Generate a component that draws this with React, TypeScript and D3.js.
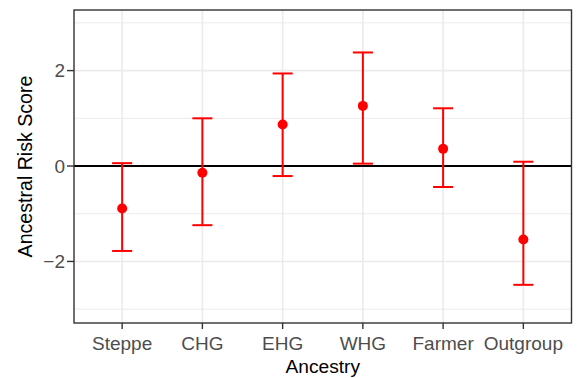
import { scaleLinear, scalePoint } from "d3";

const categories = ["Steppe", "CHG", "EHG", "WHG", "Farmer", "Outgroup"];
const estimate = [-0.89, -0.14, 0.87, 1.26, 0.36, -1.54];
const lower = [-1.78, -1.24, -0.21, 0.05, -0.44, -2.49];
const upper = [0.06, 1.0, 1.94, 2.38, 1.21, 0.09];
const majorTicks = [-2, 0, 2];
const minorTicks = [-3, -1, 1, 3];

const W = 582;
const H = 378;
const FONT = "'Liberation Sans', Arial, Helvetica, sans-serif";

export default function App() {
  const panel = { left: 74, right: 571.5, top: 10, bottom: 323 };

  const x = scalePoint<string>()
    .domain(categories)
    .range([panel.left, panel.right])
    .padding(0.6);

  const y = scaleLinear().domain([-3.29, 3.27]).range([panel.bottom, panel.top]);

  const capHalf = x.step() * 0.125;
  const red = "#ff0000";

  return (
    <svg
      width={W}
      height={H}
      style={{ position: "fixed", left: 0, top: 0, background: "#fff" }}
      fontFamily={FONT}
    >
      <rect x={0} y={0} width={W} height={H} fill="#fff" />

      {/* grid */}
      {minorTicks.map((t) => (
        <line key={"mn" + t} x1={panel.left} x2={panel.right} y1={y(t)} y2={y(t)} stroke="#ebebeb" strokeWidth={1} />
      ))}
      {majorTicks.map((t) => (
        <line key={"mj" + t} x1={panel.left} x2={panel.right} y1={y(t)} y2={y(t)} stroke="#ebebeb" strokeWidth={1.6} />
      ))}
      {categories.map((c) => (
        <line key={"vg" + c} x1={x(c)} x2={x(c)} y1={panel.top} y2={panel.bottom} stroke="#ebebeb" strokeWidth={1.6} />
      ))}

      {/* zero line */}
      <line x1={panel.left} x2={panel.right} y1={y(0)} y2={y(0)} stroke="#000" strokeWidth={2.2} />

      {/* error bars + points */}
      {categories.map((c, i) => {
        const cx = x(c)!;
        return (
          <g key={"eb" + c} stroke={red} strokeWidth={2}>
            <line x1={cx} x2={cx} y1={y(lower[i])} y2={y(upper[i])} />
            <line x1={cx - capHalf} x2={cx + capHalf} y1={y(upper[i])} y2={y(upper[i])} />
            <line x1={cx - capHalf} x2={cx + capHalf} y1={y(lower[i])} y2={y(lower[i])} />
          </g>
        );
      })}
      {categories.map((c, i) => (
        <circle key={"pt" + c} cx={x(c)} cy={y(estimate[i])} r={5} fill={red} />
      ))}

      {/* panel border */}
      <rect
        x={panel.left}
        y={panel.top}
        width={panel.right - panel.left}
        height={panel.bottom - panel.top}
        fill="none"
        stroke="#333333"
        strokeWidth={1.4}
      />

      {/* y axis */}
      {majorTicks.map((t) => (
        <g key={"yt" + t}>
          <line x1={panel.left - 7} x2={panel.left} y1={y(t)} y2={y(t)} stroke="#333333" strokeWidth={1.4} />
          <text
            x={panel.left - 9}
            y={y(t)}
            dy="0.36em"
            textAnchor="end"
            fontSize={19}
            fill="#4d4d4d"
          >
            {t < 0 ? "\u2212" + Math.abs(t) : String(t)}
          </text>
        </g>
      ))}

      {/* x axis */}
      {categories.map((c) => (
        <g key={"xt" + c}>
          <line x1={x(c)} x2={x(c)} y1={panel.bottom} y2={panel.bottom + 6} stroke="#333333" strokeWidth={1.4} />
          <text x={x(c)} y={349.5} textAnchor="middle" fontSize={19} fill="#4d4d4d">
            {c}
          </text>
        </g>
      ))}

      {/* titles */}
      <text x={(panel.left + panel.right) / 2} y={373} textAnchor="middle" fontSize={19.2} fill="#000">
        Ancestry
      </text>
      <text
        transform={`translate(31.5,${(panel.top + panel.bottom) / 2}) rotate(-90)`}
        textAnchor="middle"
        fontSize={19.6}
        fill="#000"
      >
        Ancestral Risk Score
      </text>
    </svg>
  );
}
